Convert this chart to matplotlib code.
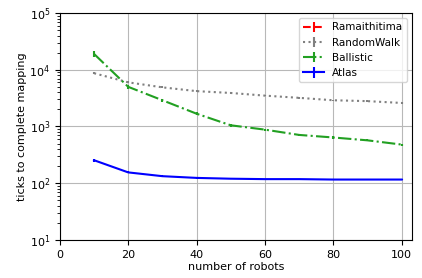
import numpy as np
import matplotlib
matplotlib.use("Agg")
import matplotlib.pyplot as plt

# robot counts on x axis
robots = [10, 20, 30, 40, 50, 60, 70, 80, 90, 100]

# ticks to complete mapping per algorithm
ramaithitima = []
random_walk = [8700, 6000, 4900, 4200, 3900, 3500, 3200, 2900, 2800, 2600]
ballistic = [19000, 5000, 2900, 1680, 1050, 880, 710, 640, 570, 480]
atlas = [254, 155, 133, 124, 120, 118, 118, 116, 116, 116]

# small spread used for the error bars
random_walk_err = [400, 250, 200, 150, 120, 100, 100, 90, 80, 80]
ballistic_err = [2500, 500, 200, 100, 60, 40, 30, 30, 25, 20]
atlas_err = [15, 6, 4, 3, 2, 2, 2, 2, 2, 2]

plt.rcParams['font.size'] = 8

fig = plt.figure(figsize=(4.22, 2.78), dpi=100)
ax = fig.add_axes([0.142, 0.137, 0.834, 0.816])

ax.errorbar(robots[:len(ramaithitima)], ramaithitima, yerr=[0] * len(ramaithitima),
            color='red', linestyle='--', label='Ramaithitima')
ax.errorbar(robots, random_walk, yerr=random_walk_err, color='grey',
            linestyle=':', label='RandomWalk')
ax.errorbar(robots, ballistic, yerr=ballistic_err, color='#22a022',
            linestyle='-.', label='Ballistic')
ax.errorbar(robots, atlas, yerr=atlas_err, color='blue',
            linestyle='-', label='Atlas')

ax.set_yscale('log')
ax.set_ylim(10, 1e5)
ax.set_xlim(0, 103)
ax.set_xticks([0, 20, 40, 60, 80, 100])
ax.set_xlabel('number of robots', labelpad=2)
ax.set_ylabel('ticks to complete mapping', labelpad=2)
ax.grid(True, color='#b8b8b8')
ax.legend(loc='upper right', fontsize=7.5, handlelength=2.0,
          borderpad=0.4, labelspacing=0.5, handletextpad=0.8)

fig.savefig('out.png', dpi=100)
